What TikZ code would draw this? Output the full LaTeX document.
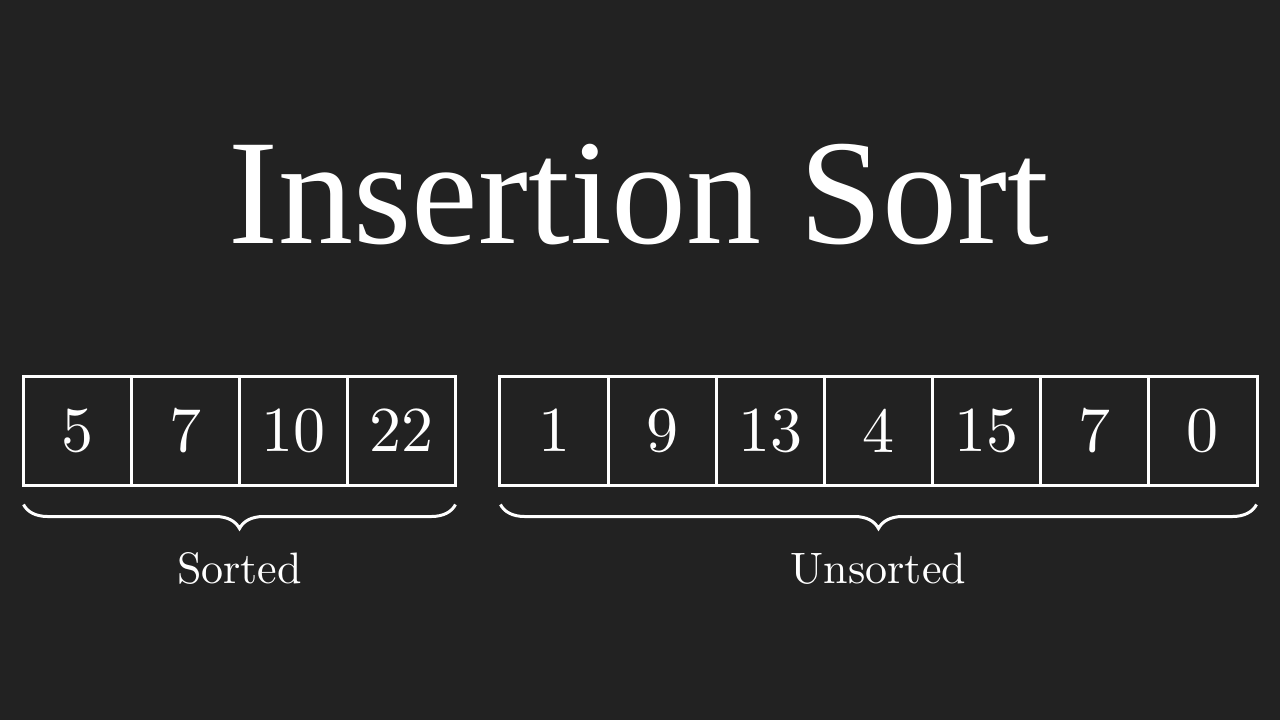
\documentclass[tikz,border=0pt]{standalone}
\usepackage{fontspec}
\setmainfont{lmroman10-regular}[Extension=.otf]
\newfontfamily\titlefont{Liberation Serif}
\usetikzlibrary{calc,decorations.pathreplacing}
\definecolor{bg}{HTML}{222222}
\begin{document}
\begin{tikzpicture}[x=1pt,y=-1pt,
  cell/.style={draw=white,line width=3pt,minimum width=108.2pt,minimum height=109pt,inner sep=0pt,text=white,font=\fontsize{64}{64}\selectfont},
  bracestyle/.style={draw=white,line width=3pt,decorate,decoration={brace,mirror,amplitude=24pt}},
  lbl/.style={text=white,font=\fontsize{44}{44}\selectfont,anchor=base,inner sep=0pt}]
\fill[bg] (0,0) rectangle (1280,720);
\useasboundingbox (0,0) rectangle (1280,720);
\node[text=white,anchor=base,inner sep=0pt,font=\titlefont\fontsize{150}{150}\selectfont] (title) at (639,243) {Insertion Sort};
\foreach \v [count=\i] in {5,7,10,22}{
  \node[cell] (s\i) at ({23+108.25*(\i-0.5)},430.5) {\v};
}
\foreach \v [count=\i] in {1,9,13,4,15,7,0}{
  \node[cell] (u\i) at ({500+108.14*(\i-0.5)},430.5) {\v};
}
\draw[bracestyle] ($(s1.south west)+(2,18)$) -- ($(s4.south east)+(-2,18)$);
\draw[bracestyle] ($(u1.south west)+(2,18)$) -- ($(u7.south east)+(-2,18)$);
\node[lbl] (sorted) at ($(s1.south west)!0.5!(s4.south east)+(0,97)$) {Sorted};
\node[lbl] (unsorted) at ($(u1.south west)!0.5!(u7.south east)+(0,97)$) {Unsorted};
\end{tikzpicture}
\end{document}
